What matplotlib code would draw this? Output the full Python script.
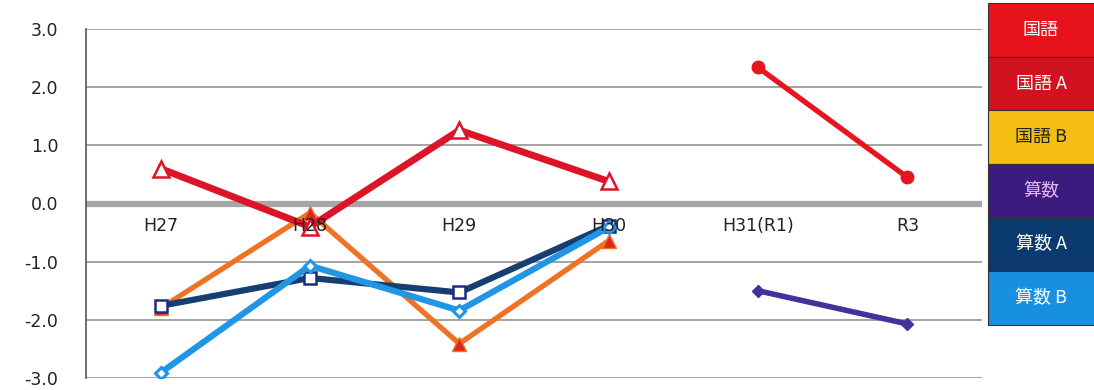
import numpy as np
import matplotlib.pyplot as plt
from matplotlib.patches import Rectangle

plt.rcParams['font.family'] = ['DejaVu Sans', 'Noto Sans CJK JP']

# ----------------------------
# Data
# ----------------------------
years = ["H27", "H28", "H29", "H30", "H31(R1)", "R3"]
nan = np.nan

kokugo   = [nan, nan, nan, nan, 2.34, 0.45]
kokugo_a = [0.60, -0.40, 1.26, 0.38, nan, nan]
kokugo_b = [-1.80, -0.16, -2.41, -0.64, nan, nan]
sansu    = [nan, nan, nan, nan, -1.50, -2.07]
sansu_a  = [-1.76, -1.28, -1.53, -0.38, nan, nan]
sansu_b  = [-2.91, -1.07, -1.84, -0.41, nan, nan]

legend_labels = ["国語", "国語 A", "国語 B", "算数", "算数 A", "算数 B"]
legend_colors = ["#e8121c", "#d3121f", "#f4bf12", "#3b1b7e", "#0b3a6e", "#1890e2"]
legend_text   = ["white", "white", "#222222", "#e9b8f0", "white", "white"]

# ----------------------------
# Figure
# ----------------------------
fig = plt.figure(figsize=(10.94, 3.90), dpi=100)
ax = fig.add_axes([86 / 1094, 1 - 378 / 390, (982 - 86) / 1094, (378 - 29) / 390])

x = np.arange(len(years))
ax.set_xlim(-0.5, len(years) - 0.5)
ax.set_ylim(-3.0, 3.0)

# horizontal grid, with a heavy zero line
for yv in [-3, -2, -1, 1, 2, 3]:
    ax.axhline(yv, color="#8a8a8a", lw=1.1, zorder=1)
ax.axhline(0, color="#a6a6a6", lw=4.5, zorder=1)

ax.set_yticks(np.arange(-3, 4, 1))
ax.set_yticklabels([f"{v:.1f}" for v in np.arange(-3, 4, 1)], fontsize=12.5, color="#222222")
ax.tick_params(axis="y", length=0, pad=20)
ax.set_xticks([])
for side in ["top", "right", "bottom"]:
    ax.spines[side].set_visible(False)
ax.spines["left"].set_color("#555555")
ax.spines["left"].set_linewidth(1.2)

# series
ax.plot(x, kokugo_b, color="#f07225", lw=3.8, marker="^", markersize=10,
        markerfacecolor="#e0251c", markeredgecolor="#f07225", zorder=3)
ax.plot(x, kokugo_a, color="#dc1426", lw=5.0, marker="^", markersize=11,
        markerfacecolor="white", markeredgecolor="#dc1426", markeredgewidth=1.8, zorder=4)
ax.plot(x, kokugo, color="#e8141e", lw=3.8, marker="o", markersize=9,
        markerfacecolor="#e8141e", zorder=4)
ax.plot(x, sansu_a, color="#163e70", lw=4.5, marker="s", markersize=8,
        markerfacecolor="white", markeredgecolor="#1b2f80", markeredgewidth=1.8, zorder=3)
ax.plot(x, sansu_b, color="#2196e6", lw=4.5, marker="D", markersize=6,
        markerfacecolor="white", markeredgecolor="#2196e6", markeredgewidth=2.2, zorder=3)
ax.plot(x, sansu, color="#46309c", lw=4.0, marker="D", markersize=6,
        markerfacecolor="#46309c", zorder=3)

# category labels sit just under the zero line
for xi, label in zip(x, years):
    ax.text(xi, -0.38, label, ha="center", va="center", fontsize=12.5,
            color="#222222", zorder=6)

# legend as a column of coloured boxes
lax = fig.add_axes([988 / 1094, 1 - 325 / 390, (1094 - 988) / 1094, (325 - 3) / 390])
lax.set_xlim(0, 1)
lax.set_ylim(0, len(legend_labels))
lax.axis("off")
for i, (lab, col, tc) in enumerate(zip(legend_labels, legend_colors, legend_text)):
    y0 = len(legend_labels) - 1 - i
    lax.add_patch(Rectangle((0, y0), 1.2, 1, facecolor=col, edgecolor="#333333",
                            lw=0.8, clip_on=False))
    lax.text(0.5, y0 + 0.5, lab, ha="center", va="center", fontsize=13,
             color=tc, family=["Noto Sans CJK JP", "DejaVu Sans"])

fig.savefig("out.png", dpi=100)
